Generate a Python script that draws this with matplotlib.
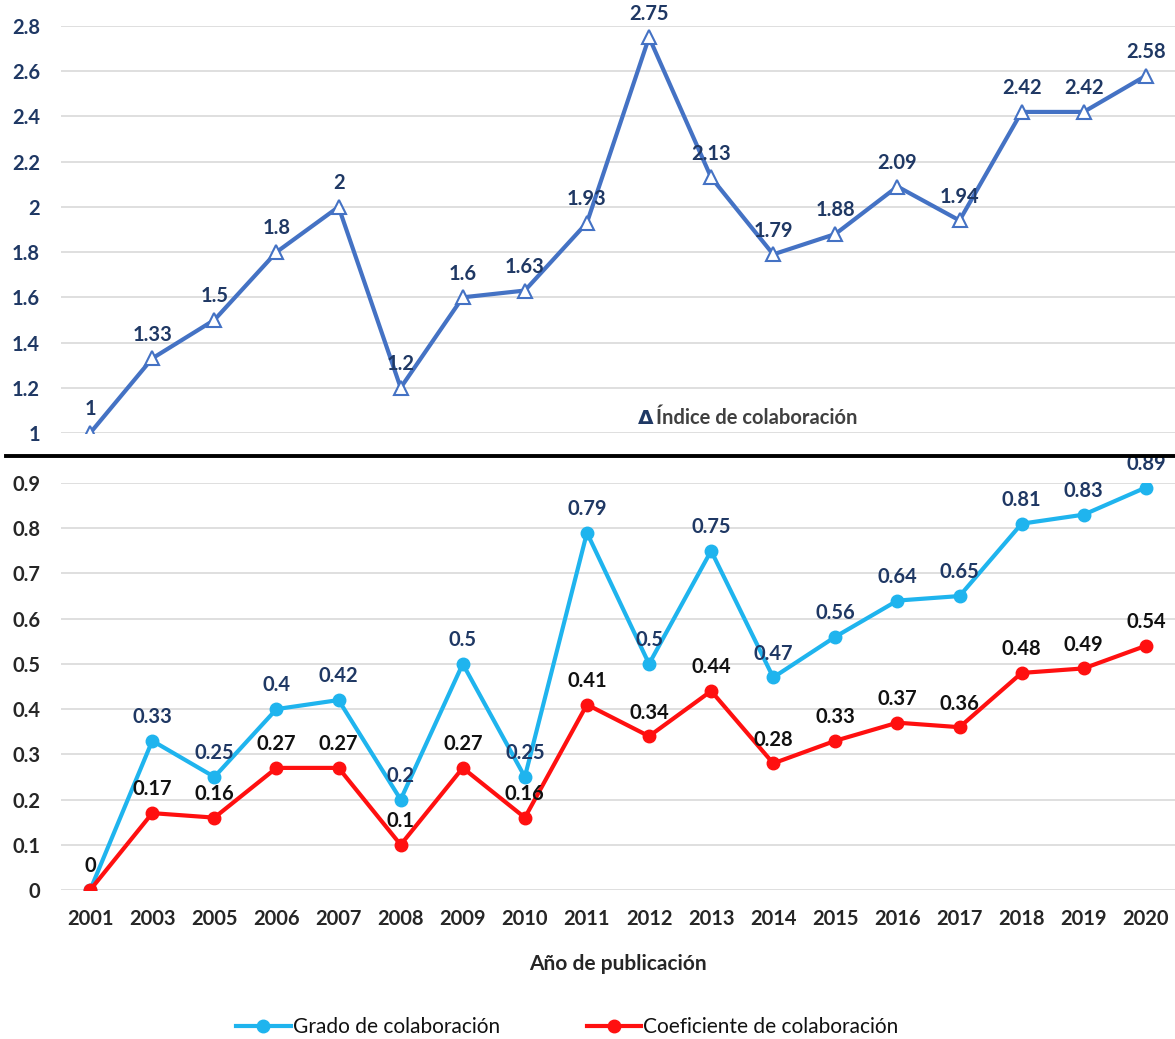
import matplotlib
matplotlib.use("Agg")
import matplotlib.pyplot as plt
from matplotlib.lines import Line2D

plt.rcParams['font.family'] = ['Lato', 'DejaVu Sans']

years = ['2001', '2003', '2005', '2006', '2007', '2008', '2009', '2010', '2011',
         '2012', '2013', '2014', '2015', '2016', '2017', '2018', '2019', '2020']
indice = [1, 1.33, 1.5, 1.8, 2, 1.2, 1.6, 1.63, 1.93, 2.75, 2.13, 1.79, 1.88,
          2.09, 1.94, 2.42, 2.42, 2.58]
grado = [0, 0.33, 0.25, 0.4, 0.42, 0.2, 0.5, 0.25, 0.79, 0.5, 0.75, 0.47, 0.56,
         0.64, 0.65, 0.81, 0.83, 0.89]
coef = [0, 0.17, 0.16, 0.27, 0.27, 0.1, 0.27, 0.16, 0.41, 0.34, 0.44, 0.28, 0.33,
        0.37, 0.36, 0.48, 0.49, 0.54]
top_ticks = [1, 1.2, 1.4, 1.6, 1.8, 2, 2.2, 2.4, 2.6, 2.8]
bot_ticks = [0, 0.1, 0.2, 0.3, 0.4, 0.5, 0.6, 0.7, 0.8, 0.9]

NAVY = '#1F3864'
BLUE = '#4472C4'
CYAN = '#1FB4EE'
RED = '#FF1010'
DARK = '#262626'
GRID = '#D9D9D9'
FS = 14.5
OFF = 18.5

W, H = 1175, 1039
fig = plt.figure(figsize=(W / 100, H / 100), dpi=100)

def px_axes(x0, x1, ytop, ybot):
    return fig.add_axes([x0 / W, 1 - ybot / H, (x1 - x0) / W, (ybot - ytop) / H])

ax1 = px_axes(61, 1175, 26, 433)
ax2 = px_axes(61, 1175, 483, 890)
x = list(range(len(years)))

for ax in (ax1, ax2):
    for s in ax.spines.values():
        s.set_visible(False)
    ax.grid(axis='y', color=GRID, lw=1.2)
    ax.set_axisbelow(True)
    ax.tick_params(length=0)
    ax.set_xlim(-0.47, len(years) - 0.53)

# Top chart
ax1.plot(x, indice, color=BLUE, lw=3, marker='^', ms=9.5, mfc='white',
         mec=BLUE, mew=1.5, zorder=3)
ax1.set_ylim(1, 2.8)
ax1.set_yticks(top_ticks)
ax1.set_yticklabels([f'{t:g}' for t in top_ticks], color=NAVY,
                    fontsize=FS, fontweight='bold')
ax1.tick_params(axis='y', pad=15)
ax1.set_xticks([])
for xi, v in zip(x, indice):
    ax1.annotate(f'{v:g}', (xi, v), xytext=(0, OFF), textcoords='offset points',
                 ha='center', va='center_baseline', color=NAVY, fontsize=FS,
                 fontweight='bold', annotation_clip=False, zorder=4)

fig.text(638 / W, 1 - 418 / H, 'Δ', color=NAVY, fontsize=FS, fontweight='bold',
         ha='left', va='center', family=['DejaVu Sans'])
fig.text(656 / W, 1 - 418 / H, 'Índice de colaboración', color='#404040',
         fontsize=FS, fontweight='bold', ha='left', va='center')

# Bottom chart
ax2.plot(x, grado, color=CYAN, lw=3, marker='o', ms=9, zorder=3,
         label='Grado de colaboración')
ax2.plot(x, coef, color=RED, lw=3, marker='o', ms=9, zorder=3,
         label='Coeficiente de colaboración')
ax2.set_ylim(0, 0.9)
ax2.set_yticks(bot_ticks)
ax2.set_yticklabels([f'{t:g}' for t in bot_ticks], color=DARK,
                    fontsize=FS, fontweight='bold')
ax2.tick_params(axis='y', pad=15)
ax2.set_xticks(x)
ax2.set_xticklabels(years, color=DARK, fontsize=FS, fontweight='bold')
ax2.tick_params(axis='x', pad=14)
ax2.set_xlabel('Año de publicación', color=DARK, fontsize=FS + 0.5,
               fontweight='bold', labelpad=18)
for xi, v in zip(x, grado):
    if xi == 0:
        continue
    ax2.annotate(f'{v:g}', (xi, v), xytext=(0, OFF), textcoords='offset points',
                 ha='center', va='center_baseline', color=NAVY, fontsize=FS,
                 fontweight='bold', annotation_clip=False, zorder=4)
for xi, v in zip(x, coef):
    ax2.annotate(f'{v:g}', (xi, v), xytext=(0, OFF), textcoords='offset points',
                 ha='center', va='center_baseline', color='#111111', fontsize=FS,
                 fontweight='bold', annotation_clip=False, zorder=4)

fig.legend(handles=ax2.get_lines(), loc='center', bbox_to_anchor=(0.483, 1 - 1027 / H),
           ncol=2, frameon=False, handlelength=2.6, handletextpad=0.1,
           columnspacing=4.2, labelcolor='#111111',
           prop={'weight': 'normal', 'size': FS + 0.5})

# separator line
fig.add_artist(Line2D([6 / W, 1.0], [1 - 456 / H, 1 - 456 / H], color='black',
                      lw=2.8, transform=fig.transFigure))

fig.savefig('out.png', dpi=100)
